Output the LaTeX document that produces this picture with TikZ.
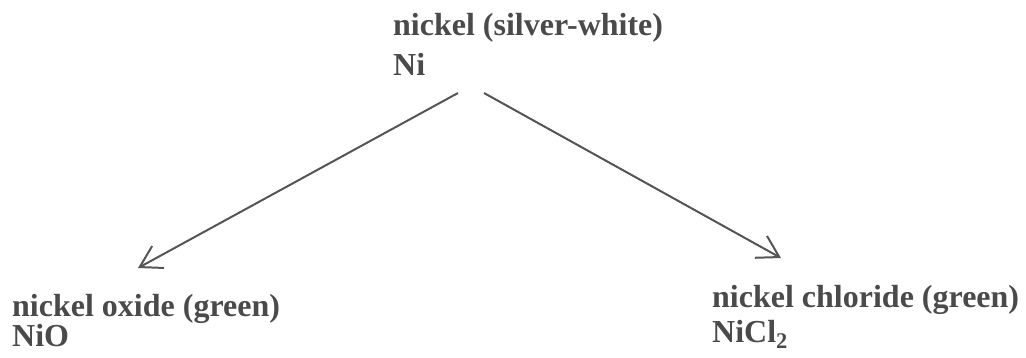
\documentclass[tikz,border=0pt]{standalone}
\usepackage{fontspec}
\setmainfont{Liberation Serif}
\usetikzlibrary{arrows.meta}
\definecolor{ink}{HTML}{4A4A4A}
\definecolor{lineink}{HTML}{555555}
\tikzset{
  lbl/.style={inner sep=0pt, anchor=base west, align=left, text=ink},
  conn/.style={draw=lineink, line width=2pt,
    -{Straight Barb[length=21pt, width=25pt, line width=2pt]}}
}
\begin{document}
\begin{tikzpicture}[x=1pt, y=-1pt]
\useasboundingbox (0,0) rectangle (1026,357);
\node[lbl, font=\fontsize{32}{40}\selectfont\bfseries] (ni) at (393,75) {nickel (silver-white)\\Ni};
\node[lbl, font=\fontsize{32}{30}\selectfont\bfseries] (nio) at (12,346) {nickel oxide (green)\\NiO};
\node[lbl, font=\fontsize{32}{35}\selectfont\bfseries] (nicl) at (712,342) {nickel chloride (green)\\NiCl\textsubscript{2}};
\coordinate (s1) at (458,93);
\coordinate (t1) at (138,268);
\coordinate (s2) at (484,93);
\coordinate (t2) at (781,258);
\draw[conn] (s1) -- (t1);
\draw[conn] (s2) -- (t2);
\end{tikzpicture}
\end{document}
